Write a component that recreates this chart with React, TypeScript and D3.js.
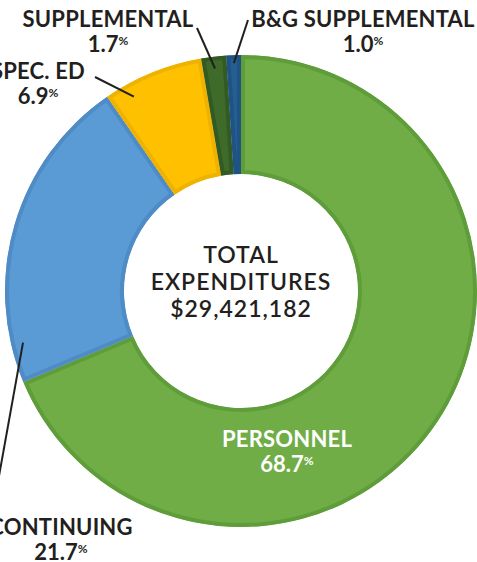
import React from 'react';
import * as d3 from 'd3';

// expenditure breakdown, clockwise from 12 o'clock
const categories = ['PERSONNEL', 'CONTINUING', 'SPEC. ED', 'SUPPLEMENTAL', 'B&G SUPPLEMENTAL'];
const shares = [68.7, 21.7, 6.9, 1.7, 1.0];
const centerLines = ['TOTAL', 'EXPENDITURES', '$29,421,182'];

const fills = ['#70AD47', '#5B9BD5', '#FFC000', '#3E6B2A', '#255E91'];
const borders = ['#5F9D3A', '#4F8CC6', '#EEB300', '#335A22', '#1E5383'];

// label layout: text anchor, and where the leader line starts inside the slice
const labelLayout = [
  { x: 287, y: 447, color: '#FFFFFF', leader: null },
  { x: 61, y: 535, color: '#231F20', leader: { frac: 0.12, r: 224, x: -1, y: 476 } },
  { x: 38, y: 79, color: '#231F20', leader: { frac: 0.23, r: 222, x: 95, y: 77 } },
  { x: 108, y: 27, color: '#231F20', leader: { frac: 0.5, r: 224, x: 197, y: 28 } },
  { x: 363, y: 27, color: '#231F20', leader: { frac: 0.5, r: 228, x: 248, y: 20 } },
];

const width = 477;
const height = 562;
const cx = 241;
const cy = 291;
const outerR = 236;
const innerR = 117;
const font = 'Lato, "Noto Sans", sans-serif';

export default function App() {
  const pie = d3.pie<number>().sort(null).value((d) => d);
  const arcs = pie(shares);
  const arc = d3.arc<d3.PieArcDatum<number>>().innerRadius(innerR).outerRadius(outerR);

  const polar = (a: number, r: number) => [cx + r * Math.sin(a), cy - r * Math.cos(a)];

  return (
    <svg
      width={width}
      height={height}
      style={{ position: 'absolute', left: 0, top: 0, background: '#fff' }}
      fontFamily={font}
    >
      <defs>
        {arcs.map((a, i) => (
          <clipPath key={i} id={`clip-${i}`}>
            <path d={arc(a) || ''} />
          </clipPath>
        ))}
      </defs>

      <g transform={`translate(${cx},${cy})`}>
        {arcs.map((a, i) => (
          <path
            key={i}
            d={arc(a) || ''}
            fill={fills[i]}
            stroke={borders[i]}
            strokeWidth={8}
            clipPath={`url(#clip-${i})`}
          />
        ))}
      </g>

      {arcs.map((a, i) => {
        const l = labelLayout[i].leader;
        if (!l) return null;
        const ang = a.startAngle + (a.endAngle - a.startAngle) * l.frac;
        const [x1, y1] = polar(ang, l.r);
        return <line key={i} x1={x1} y1={y1} x2={l.x} y2={l.y} stroke="#231F20" strokeWidth={2} />;
      })}

      {categories.map((c, i) => {
        const p = labelLayout[i];
        return (
          <g key={c} fill={p.color} fontWeight={700} textAnchor="middle">
            <text x={p.x} y={p.y} fontSize={22} letterSpacing={0.2}>{c}</text>
            <text x={p.x} y={p.y + 25} fontSize={22}>
              {shares[i].toFixed(1)}
              <tspan fontSize={12} dy={-7}>%</tspan>
            </text>
          </g>
        );
      })}

      {centerLines.map((t, i) => (
        <text
          key={t}
          x={cx}
          y={263 + i * 27}
          textAnchor="middle"
          fontSize={23}
          letterSpacing={1}
          fontWeight={600}
          fill="#231F20"
        >
          {t}
        </text>
      ))}
    </svg>
  );
}
